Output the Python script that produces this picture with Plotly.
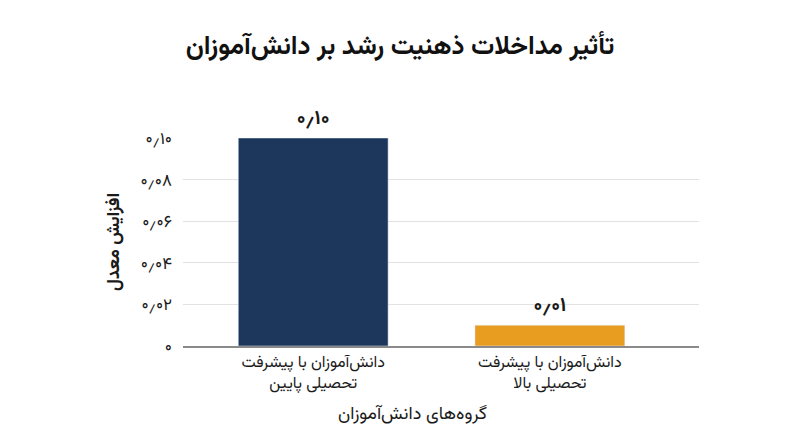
import plotly.graph_objects as go

# داده‌ها
groups = ["دانش\u200cآموزان با پیشرفت<br>تحصیلی پایین", "دانش\u200cآموزان با پیشرفت<br>تحصیلی بالا"]
gpa_gain = [0.10, 0.01]
gpa_gain_labels = ["<b>۰٫۱۰</b>", "<b>۰٫۰۱</b>"]
bar_colors = ["#1c365c", "#e89c20"]
y_tick_vals = [0, 0.02, 0.04, 0.06, 0.08, 0.10]
y_tick_text = ["۰", "۰٫۰۲", "۰٫۰۴", "۰٫۰۶", "۰٫۰۸", "۰٫۱۰"]

font_family = "Vazirmatn, Noto Sans Arabic, DejaVu Sans, sans-serif"

fig = go.Figure(go.Bar(
    x=groups,
    y=gpa_gain,
    marker_color=bar_colors,
    width=0.633,
    text=gpa_gain_labels,
    textposition="outside",
    textfont=dict(size=20, color="#1a1a1a", family=font_family),
    cliponaxis=False,
))

# the page is drawn with an 8px body margin, so everything is offset by 8px
fig.update_layout(
    width=800, height=447,
    margin=dict(l=175, r=109, t=130, b=109),
    paper_bgcolor="white", plot_bgcolor="white",
    font=dict(family=font_family, color="#1a1a1a"),
    title=dict(text="<b>تأثیر مداخلات ذهنیت رشد بر دانش\u200cآموزان</b>",
               x=0.49, xanchor="center", y=0.917, yanchor="middle",
               font=dict(size=26, color="#111111")),
    showlegend=False,
)

fig.add_annotation(
    text="گروه\u200cهای دانش\u200cآموزان",
    xref="paper", yref="paper", x=0.444, y=-0.33,
    xanchor="center", yanchor="middle", showarrow=False,
    font=dict(size=18, color="#1a1a1a"),
)

fig.update_xaxes(
    range=[-0.55, 1.63],
    showgrid=False,
    showline=True, linecolor="#8a8a8a", linewidth=1.5,
    tickfont=dict(size=16, color="#1a1a1a"),
    ticks="",
)

fig.update_yaxes(
    range=[0, 0.1],
    tickvals=y_tick_vals, ticktext=y_tick_text,
    showgrid=True, gridcolor="#e2e2e2", gridwidth=1,
    zeroline=False,
    tickfont=dict(size=17, color="#1a1a1a"),
    ticks="", ticklabelstandoff=10,
    title=dict(text="<b>افزایش معدل</b>", font=dict(size=18, color="#1a1a1a"), standoff=16),
)

fig.write_html("out.html")
